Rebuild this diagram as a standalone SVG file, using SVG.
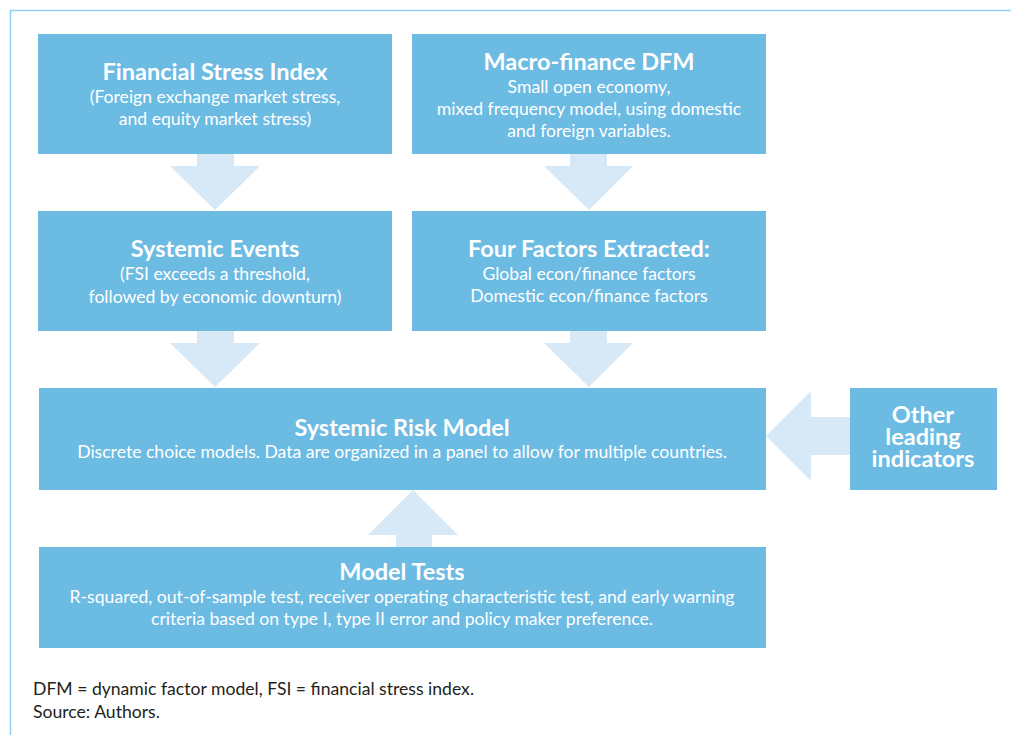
<svg xmlns="http://www.w3.org/2000/svg" width="1011" height="735" viewBox="0 0 1011 735">
<style>
.box{fill:#6cbbe3}
.arr{fill:#d7e8f6}
.t{font-family:Lato,"Liberation Sans",sans-serif;fill:#fff;text-anchor:middle}
.h{font-size:23.5px;font-weight:bold}
.s{font-size:17.6px}
.f{font-family:Lato,"Liberation Sans",sans-serif;font-size:17.6px;fill:#231f20}
</style>
<rect width="1011" height="735" fill="#fff"/>
<path d="M10.5 735 V10.5 H1011" fill="none" stroke="#8fd2f1" stroke-width="1.5"/>
<g id="connectors">
<polygon class="arr" points="197,154 234,154 234,166 260,166 215,210 170,166 197,166"/>
<polygon class="arr" points="197,331 234,331 234,343 260,343 215,387 170,343 197,343"/>
<polygon class="arr" points="570,154 607,154 607,166 633,166 589,210 544,166 570,166"/>
<polygon class="arr" points="570,331 607,331 607,343 633,343 589,387 544,343 570,343"/>
<polygon class="arr" points="850,417 811,417 811,391 766,436 811,481 811,455 850,455"/>
<polygon class="arr" points="396,547 432,547 432,535 458,535 413,490 368,535 396,535"/>
</g>
<g id="fsi">
<rect class="box" x="38" y="34" width="354" height="120"/>
<text class="t h" x="215" y="80">Financial Stress Index</text>
<text class="t s" x="215" y="103">(Foreign exchange market stress,</text>
<text class="t s" x="215" y="125">and equity market stress)</text>
</g>
<g id="dfm">
<rect class="box" x="412" y="34" width="354" height="120"/>
<text class="t h" x="589" y="70">Macro-finance DFM</text>
<text class="t s" x="589" y="93">Small open economy,</text>
<text class="t s" x="589" y="115">mixed frequency model, using domestic</text>
<text class="t s" x="589" y="137">and foreign variables.</text>
</g>
<g id="events">
<rect class="box" x="38" y="211" width="354" height="120"/>
<text class="t h" x="215" y="257">Systemic Events</text>
<text class="t s" x="215" y="280">(FSI exceeds a threshold,</text>
<text class="t s" x="215" y="303">followed by economic downturn)</text>
</g>
<g id="factors">
<rect class="box" x="412" y="211" width="354" height="120"/>
<text class="t h" x="589" y="257">Four Factors Extracted:</text>
<text class="t s" x="589" y="280">Global econ/finance factors</text>
<text class="t s" x="589" y="302">Domestic econ/finance factors</text>
</g>
<g id="srm">
<rect class="box" x="39" y="388" width="727" height="102"/>
<text class="t h" x="402" y="436">Systemic Risk Model</text>
<text class="t s" x="402" y="458">Discrete choice models. Data are organized in a panel to allow for multiple countries.</text>
</g>
<g id="other">
<rect class="box" x="850" y="388" width="147" height="102"/>
<text class="t h" x="923" y="423">Other</text>
<text class="t h" x="923" y="445">leading</text>
<text class="t h" x="923" y="467">indicators</text>
</g>
<g id="tests">
<rect class="box" x="39" y="547" width="727" height="101"/>
<text class="t h" x="402" y="580">Model Tests</text>
<text class="t s" x="402" y="603">R-squared, out-of-sample test, receiver operating characteristic test, and early warning</text>
<text class="t s" x="402" y="625">criteria based on type I, type II error and policy maker preference.</text>
</g>
<text class="f" x="33" y="695">DFM = dynamic factor model, FSI = financial stress index.</text>
<text class="f" x="33" y="718">Source: Authors.</text>
</svg>
